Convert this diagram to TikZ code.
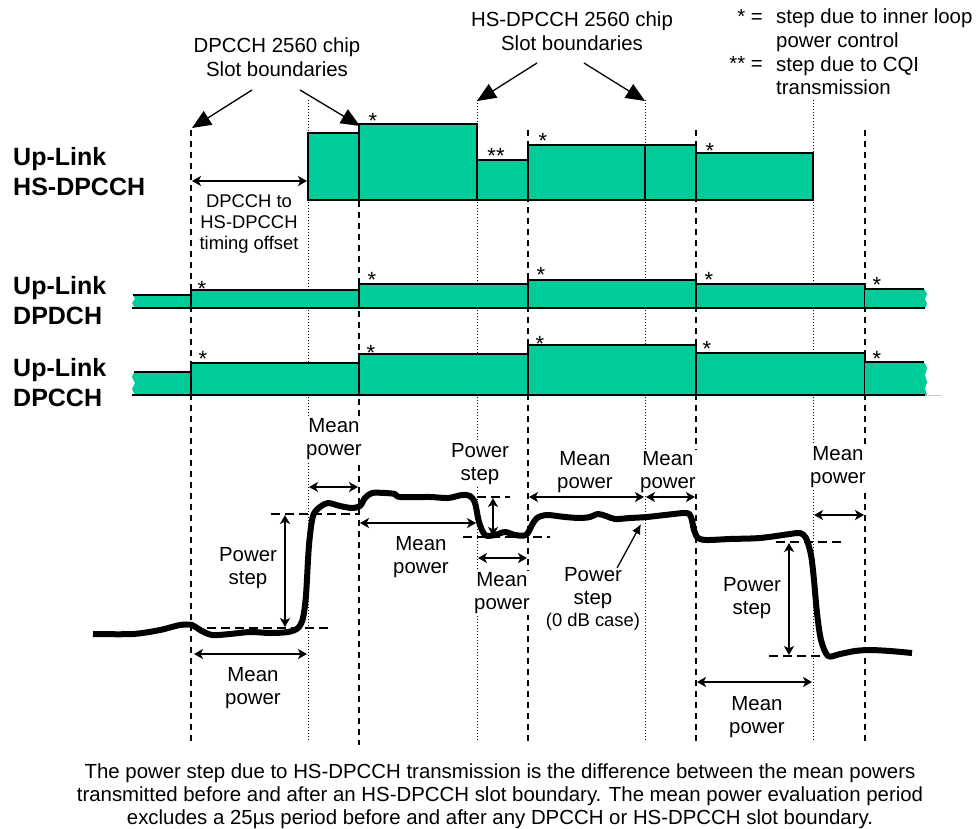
\documentclass[tikz,border=0pt]{standalone}
\usepackage{fontspec}
\setmainfont{Liberation Sans}
\usetikzlibrary{arrows.meta}
\definecolor{chgreen}{RGB}{0,204,153}
\tikzset{
  slotdash/.style={line width=1.4pt, dash pattern=on 6pt off 5pt},
  hsdot/.style={line width=0.9pt, dash pattern=on 1pt off 2pt},
  chbox/.style={fill=chgreen, draw=black, line width=1.6pt},
  chedge/.style={draw=black, line width=1.6pt},
  txt/.style={font=\fontsize{20.4}{23.5}\selectfont, align=center, fill=white, inner sep=1pt},
  smalltxt/.style={font=\fontsize{18.4}{21}\selectfont, align=center, fill=white, inner sep=1pt},
  chname/.style={font=\fontsize{25}{30}\selectfont\bfseries, align=left, anchor=west, inner sep=0pt},
  stepmark/.style={font=\fontsize{22}{24}\selectfont, anchor=base, inner sep=0pt},
  meanarrow/.style={{Stealth[length=9pt,width=10pt,inset=2.5pt]}-{Stealth[length=9pt,width=10pt,inset=2.5pt]}, line width=1.5pt},
  slotpointer/.style={-{Triangle[length=19pt,width=16pt]}, line width=1.3pt},
  powerlevel/.style={line width=1.3pt, dash pattern=on 9pt off 5pt},
  powertrace/.style={line width=6pt, line join=round}
}
\begin{document}
\begin{tikzpicture}[x=1pt, y=-1pt]
	\useasboundingbox (0,0) rectangle (980,828);
	% slot boundaries
	\draw[slotdash] (191,130) -- (191,745);
	\draw[slotdash] (359,124) -- (359,745);
	\draw[slotdash] (528,130) -- (528,745);
	\draw[slotdash] (696,130) -- (696,745);
	\draw[slotdash] (865,130) -- (865,745);
	\draw[hsdot] (308,100) -- (308,740);
	\draw[hsdot] (477,100) -- (477,740);
	\draw[hsdot] (645,100) -- (645,740);
	\draw[hsdot] (813,100) -- (813,740);
	% HS-DPCCH
	\draw[chbox] (308,200) rectangle (359,133);
	\draw[chbox] (359,200) rectangle (477,124);
	\draw[chbox] (477,200) rectangle (528,160);
	\draw[chbox] (528,200) rectangle (645,145);
	\draw[chbox] (645,200) rectangle (696,145);
	\draw[chbox] (696,200) rectangle (813,153);
	% DPDCH
	\fill[chgreen] (135,308) -- (132,303) -- (135,299) -- (133,295) -- (191,295) -- (191,308) -- cycle;
	\draw[chbox] (191,308) rectangle (359,290);
	\draw[chbox] (359,308) rectangle (528,284);
	\draw[chbox] (528,308) rectangle (696,280);
	\draw[chbox] (696,308) rectangle (865,284);
	\fill[chgreen] (865,289) -- (924,289) -- (927,294) -- (925,299) -- (927,304) -- (925,308) -- (865,308) -- cycle;
	\draw[chedge] (133,295) -- (191,295);
	\draw[chedge] (865,289) -- (924,289);
	\draw[chedge] (132,308) -- (925,308);
	% DPCCH
	\fill[chgreen] (135,395) -- (132,389) -- (135,383) -- (132,377) -- (134,372) -- (191,372) -- (191,395) -- cycle;
	\draw[chbox] (191,395) rectangle (359,363);
	\draw[chbox] (359,395) rectangle (528,354);
	\draw[chbox] (528,395) rectangle (696,345);
	\draw[chbox] (696,395) rectangle (865,353);
	\fill[chgreen] (865,362) -- (924,362) -- (927,368) -- (925,375) -- (927,382) -- (925,389) -- (927,395) -- (865,395) -- cycle;
	\draw[chedge] (134,372) -- (191,372);
	\draw[chedge] (865,362) -- (924,362);
	\draw[chedge] (132,395) -- (925,395);
	\draw[gray!40, line width=0.8pt] (925,395) -- (942,395);
	% channel names
	\node[chname] (hsname) at (13,172) {Up-Link\\HS-DPCCH};
	\node[chname] (dpdchname) at (13,301) {Up-Link\\DPDCH};
	\node[chname] (dpcchname) at (13,383) {Up-Link\\DPCCH};
	% steps
	\node[stepmark] (hs1) at (373,128) {*};
	\node[stepmark] (hs2) at (496,163) {**};
	\node[stepmark] (hs3) at (543,148) {*};
	\node[stepmark] (hs4) at (710,158) {*};
	\node[stepmark] (dd1) at (202,296) {*};
	\node[stepmark] (dd2) at (372,287) {*};
	\node[stepmark] (dd3) at (541,282) {*};
	\node[stepmark] (dd4) at (709,287) {*};
	\node[stepmark] (dd5) at (877,292) {*};
	\node[stepmark] (dc1) at (203,366) {*};
	\node[stepmark] (dc2) at (371,360) {*};
	\node[stepmark] (dc3) at (540,351) {*};
	\node[stepmark] (dc4) at (707,356) {*};
	\node[stepmark] (dc5) at (877,366) {*};
	% top labels
	\node[txt] (dpcchslot) at (277,57) {DPCCH 2560 chip\\Slot boundaries};
	\node[txt] (hsslot) at (572,31) {HS-DPCCH 2560 chip\\Slot boundaries};
	\node[txt, anchor=east] (keyone) at (764,16) {* =};
	\node[txt, anchor=east] (keytwo) at (764,63) {** =};
	\node[txt, anchor=west, align=left, font=\fontsize{20.4}{23.8}\selectfont] (keytext) at (775,52) {step due to inner loop\\power control\\step due to CQI\\transmission};
	\coordinate (dpa) at (252,90);
	\coordinate (dpb) at (300,90);
	\coordinate (hsa) at (537,63);
	\coordinate (hsb) at (584,63);
	\draw[slotpointer] (dpa) -- (192,128);
	\draw[slotpointer] (dpb) -- (360,126);
	\draw[slotpointer] (hsa) -- (477,101);
	\draw[slotpointer] (hsb) -- (645,101);
	% timing offset
	\node[smalltxt] (offset) at (249,224) {DPCCH to\\HS-DPCCH\\timing offset};
	\draw[meanarrow] (192,181) -- (307,181);
	% measurement texts
	\node[txt] (mp1) at (253,688) {Mean\\power};
	\node[txt] (mp2) at (334,439) {Mean\\power};
	\node[txt] (mp3) at (421,557) {Mean\\power};
	\node[txt] (mp4) at (502,593) {Mean\\power};
	\node[txt] (mp5) at (585,472) {Mean\\power};
	\node[txt] (mp6) at (668,472) {Mean\\power};
	\node[txt] (mp7) at (757,717) {Mean\\power};
	\node[txt] (mp8) at (838,467) {Mean\\power};
	\node[txt] (ps1) at (248,568) {Power\\step};
	\node[txt] (ps2) at (480,464) {Power\\step};
	\node[txt] (ps3) at (752,598) {Power\\step};
	\node[txt] (ps4) at (593,588) {Power\\step};
	\node[smalltxt] (zerodb) at (593,622) {(0 dB case)};
	% transmitted power
	\draw[powertrace] plot[smooth, tension=0.5] coordinates {(93,634) (133,634) (160,630) (180,625) (192,625) (200,630) (212,635) (230,634) (250,632) (270,633) (288,632) (298,628) (303,618) (306,595) (309,545) (313,516) (320,507) (328,503) (340,506) (352,508) (360,506) (365,498) (372,493) (385,493) (395,494) (400,497) (430,497) (448,498) (462,495) (470,496) (475,503) (479,522) (485,535) (495,535) (505,532) (515,535) (526,535) (532,525) (537,518) (547,515) (565,517) (580,518) (590,517) (598,514) (606,516) (615,519) (630,518) (647,517) (665,515) (686,513) (691,517) (694,530) (698,538) (707,540) (730,539) (760,538) (790,534) (800,533) (806,538) (811,555) (814,580) (817,613) (821,640) (828,656) (840,654) (855,651) (870,650) (890,651) (912,653)};
	% power levels
	\draw[powerlevel] (271,514) -- (360,514);
	\draw[powerlevel] (193,628) -- (330,628);
	\draw[powerlevel] (477,497) -- (510,497);
	\draw[powerlevel] (463,537) -- (550,537);
	\draw[powerlevel] (776,542) -- (842,542);
	\draw[powerlevel] (769,656) -- (820,656);
	% arrows
	\draw[meanarrow] (285,515) -- (285,627);
	\draw[meanarrow] (493,498) -- (493,536);
	\draw[meanarrow] (789,543) -- (789,655);
	\draw[meanarrow] (194,654) -- (307,654);
	\draw[meanarrow] (309,487) -- (358,487);
	\draw[meanarrow] (360,523) -- (476,523);
	\draw[meanarrow] (478,558) -- (527,558);
	\draw[meanarrow] (529,497) -- (644,497);
	\draw[meanarrow] (646,497) -- (695,497);
	\draw[meanarrow] (697,682) -- (812,682);
	\draw[meanarrow] (814,515) -- (864,515);
	\draw[-{Latex[length=10pt,width=9pt]}, line width=1.3pt] (ps4.north east) ++(-6,2) -- (641,524);
	% caption
	\node[txt, font=\fontsize{20.4}{23}\selectfont] (caption) at (500,796) {The power step due to HS-DPCCH transmission is the difference between the mean powers\\transmitted before and after an HS-DPCCH slot boundary. The mean power evaluation period\\excludes a 25µs period before and after any DPCCH or HS-DPCCH slot boundary.};
\end{tikzpicture}
\end{document}
